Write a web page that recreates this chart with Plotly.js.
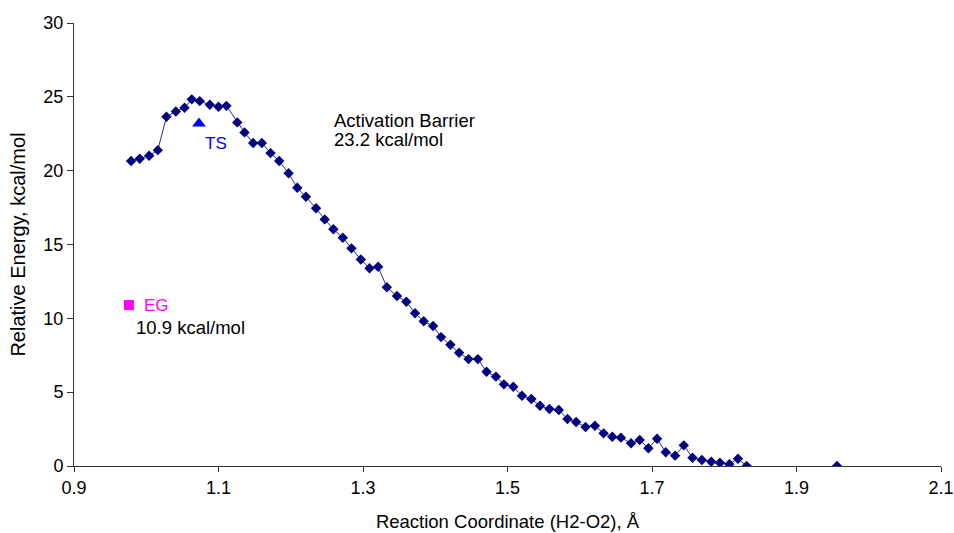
<!DOCTYPE html>
<html>
<head>
<meta charset="utf-8">
<script src="https://cdn.plot.ly/plotly-3.0.1.min.js"></script>
<style>html,body{margin:0;padding:0;background:#fff;}#chart{width:954px;height:533px;}</style>
</head>
<body>
<div id="chart"></div>
<script>
// Reaction path (scan) data, points drawn with markers
var coordX = [0.979,0.991,1.004,1.016,1.028,1.041,1.053,1.063,1.074,1.088,1.100,1.111,1.126,1.136,1.148,1.160,1.172,1.184,1.197,1.209,
  1.221,1.235,1.247,1.259,1.272,1.284,1.297,1.309,1.321,1.333,1.347,1.360,1.372,1.384,1.397,1.408,1.421,1.433,1.446,1.459,
  1.471,1.484,1.495,1.508,1.520,1.533,1.545,1.558,1.571,1.583,1.595,1.608,1.621,1.633,1.645,1.657,1.671,1.683,1.695,1.707,
  1.719,1.732,1.744,1.756,1.769,1.782,1.794,1.807,1.819,1.831];
var energy = [20.65,20.81,21.01,21.39,23.65,24.01,24.26,24.83,24.71,24.46,24.33,24.39,23.27,22.59,21.87,21.87,21.19,20.65,19.82,18.84,
  18.23,17.45,16.70,16.03,15.46,14.74,13.98,13.39,13.49,12.10,11.51,11.12,10.34,9.80,9.48,8.73,8.21,7.67,7.24,7.24,
  6.38,6.05,5.53,5.37,4.76,4.54,4.08,3.86,3.79,3.18,2.98,2.64,2.73,2.21,1.98,1.92,1.54,1.76,1.20,1.85,
  0.93,0.70,1.40,0.56,0.41,0.29,0.22,0.12,0.49,0.00];
// Tail of the scan that dips slightly below zero (off the axis)
var tailX = [1.831,1.877,1.905,1.921,1.939,1.956];
var tailY = [0.00,-0.16,-0.32,-0.34,-0.34,0.00];
var lastX = [1.956], lastY = [0.00];
// Special points
var tsX = [1.073], tsY = [23.2];
var egX = [0.976], egY = [10.9];
var xTicks = [0.9,1.1,1.3,1.5,1.7,1.9,2.1];
var xTickText = ['0.9','1.1','1.3','1.5','1.7','1.9','2.1'];
var yTicks = [0,5,10,15,20,25,30];

var fnt = 'Liberation Sans, Arial, sans-serif';
var navy = '#000080';
var traces = [
  {x: tailX, y: tailY, type: 'scatter', mode: 'lines',
   line: {color: '#3a3aa0', width: 1}, showlegend: false},
  {x: coordX, y: energy, type: 'scatter', mode: 'lines+markers',
   line: {color: '#2a2a90', width: 1},
   marker: {symbol: 'diamond', size: 8, color: navy}, showlegend: false},
  {x: lastX, y: lastY, type: 'scatter', mode: 'markers',
   marker: {symbol: 'diamond', size: 8, color: navy}, showlegend: false},
  {x: tsX, y: tsY, type: 'scatter', mode: 'markers',
   marker: {symbol: 'triangle-up', size: 12, color: '#0000ff'}, showlegend: false},
  {x: egX, y: egY, type: 'scatter', mode: 'markers',
   marker: {symbol: 'square', size: 10, color: '#ff00ff'}, showlegend: false}
];
var layout = {
  width: 954, height: 533,
  margin: {l: 74, r: 13, t: 23, b: 67},
  paper_bgcolor: '#fff', plot_bgcolor: '#fff',
  font: {family: fnt, size: 18, color: '#000'},
  showlegend: false,
  xaxis: {
    range: [0.9, 2.1], tickvals: xTicks, ticktext: xTickText,
    showgrid: false, zeroline: false, showline: true, linecolor: '#333', linewidth: 1,
    ticks: 'outside', ticklen: 5, tickcolor: '#333', tickfont: {family: fnt, size: 18},
    automargin: false,
    title: {text: 'Reaction Coordinate (H2-O2), Å', font: {family: fnt, size: 18.5}, standoff: 18}
  },
  yaxis: {
    range: [0, 30], tickvals: yTicks,
    showgrid: false, zeroline: false, showline: true, linecolor: '#333', linewidth: 1,
    ticks: 'outside', ticklen: 6, tickcolor: '#333', tickfont: {family: fnt, size: 18},
    automargin: false,
    title: {text: 'Relative Energy, kcal/mol', font: {family: fnt, size: 20}, standoff: 12}
  },
  annotations: [
    {x: tsX[0], y: tsY[0], xref: 'x', yref: 'y', text: 'TS', showarrow: false,
     xanchor: 'left', yanchor: 'middle', xshift: 4, yshift: -20, font: {family: fnt, size: 17, color: '#0000ff'}},
    {x: egX[0], y: egY[0], xref: 'x', yref: 'y', text: 'EG', showarrow: false,
     xanchor: 'left', yanchor: 'middle', xshift: 13, yshift: 0, font: {family: fnt, size: 17, color: '#ff00ff'}},
    {x: egX[0], y: egY[0], xref: 'x', yref: 'y', text: '10.9 kcal/mol', showarrow: false,
     xanchor: 'left', yanchor: 'middle', xshift: 5, yshift: -22, font: {family: fnt, size: 18.5, color: '#000'}},
    {x: 1.257, y: 23.43, xref: 'x', yref: 'y', text: 'Activation Barrier', showarrow: false,
     xanchor: 'left', yanchor: 'middle', font: {family: fnt, size: 18.5, color: '#000'}},
    {x: 1.257, y: 22.14, xref: 'x', yref: 'y', text: '23.2 kcal/mol', showarrow: false,
     xanchor: 'left', yanchor: 'middle', font: {family: fnt, size: 18.5, color: '#000'}}
  ]
};
Plotly.newPlot('chart', traces, layout, {displayModeBar: false, staticPlot: true});
</script>
</body>
</html>
